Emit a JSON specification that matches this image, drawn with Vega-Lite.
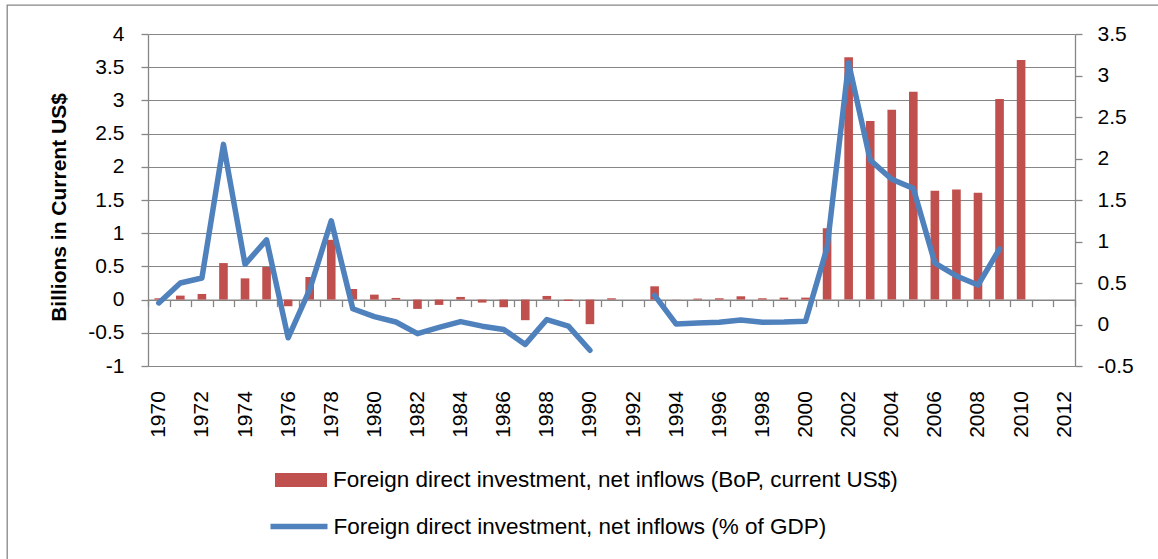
{
  "$schema": "https://vega.github.io/schema/vega-lite/v6.json",
  "autosize": "none",
  "width": 1151,
  "height": 554,
  "padding": {"left": 7, "top": 5, "right": 0, "bottom": 0},
  "background": "white",
  "config": {
    "view": {"stroke": "#868686", "strokeWidth": 1.3, "strokeDash": [1151, 1705, 554, 0]},
    "font": "Liberation Sans",
    "axis": {"labelFont": "Liberation Sans", "labelColor": "#000000", "titleColor": "#000000", "domainColor": "#868686", "tickColor": "#868686", "gridColor": "#868686", "domainWidth": 1.3, "tickWidth": 1.3, "gridWidth": 1.1},
    "legend": {"labelFont": "Liberation Sans", "labelFontSize": 22.5, "labelColor": "#000000", "labelLimit": 900, "padding": 0}
  },
  "data": {"values": [
    {"year": "1970", "usd": 0.02, "pct": 0.26},
    {"year": "1971", "usd": 0.06, "pct": 0.5},
    {"year": "1972", "usd": 0.085, "pct": 0.56},
    {"year": "1973", "usd": 0.55, "pct": 2.17},
    {"year": "1974", "usd": 0.32, "pct": 0.725},
    {"year": "1975", "usd": 0.49, "pct": 1.02},
    {"year": "1976", "usd": -0.1, "pct": -0.16},
    {"year": "1977", "usd": 0.34, "pct": 0.42},
    {"year": "1978", "usd": 0.9, "pct": 1.25},
    {"year": "1979", "usd": 0.16, "pct": 0.19},
    {"year": "1980", "usd": 0.075, "pct": 0.095},
    {"year": "1981", "usd": 0.025, "pct": 0.03},
    {"year": "1982", "usd": -0.14, "pct": -0.11},
    {"year": "1983", "usd": -0.08, "pct": -0.035},
    {"year": "1984", "usd": 0.04, "pct": 0.035},
    {"year": "1985", "usd": -0.045, "pct": -0.02},
    {"year": "1986", "usd": -0.115, "pct": -0.06},
    {"year": "1987", "usd": -0.31, "pct": -0.24},
    {"year": "1988", "usd": 0.055, "pct": 0.06},
    {"year": "1989", "usd": -0.02, "pct": -0.02},
    {"year": "1990", "usd": -0.37, "pct": -0.31},
    {"year": "1991", "usd": 0.02, "pct": null},
    {"year": "1992", "usd": null, "pct": null},
    {"year": "1993", "usd": 0.2, "pct": 0.35},
    {"year": "1994", "usd": 0.003, "pct": 0.005},
    {"year": "1995", "usd": 0.015, "pct": 0.018},
    {"year": "1996", "usd": 0.02, "pct": 0.026},
    {"year": "1997", "usd": 0.05, "pct": 0.054},
    {"year": "1998", "usd": 0.02, "pct": 0.026},
    {"year": "1999", "usd": 0.03, "pct": 0.03},
    {"year": "2000", "usd": 0.03, "pct": 0.04},
    {"year": "2001", "usd": 1.075, "pct": 0.925},
    {"year": "2002", "usd": 3.65, "pct": 3.15},
    {"year": "2003", "usd": 2.69, "pct": 1.98},
    {"year": "2004", "usd": 2.86, "pct": 1.75},
    {"year": "2005", "usd": 3.13, "pct": 1.64},
    {"year": "2006", "usd": 1.64, "pct": 0.74},
    {"year": "2007", "usd": 1.66, "pct": 0.585},
    {"year": "2008", "usd": 1.61, "pct": 0.475},
    {"year": "2009", "usd": 3.02, "pct": 0.91},
    {"year": "2010", "usd": 3.61, "pct": null},
    {"year": "2011", "usd": null, "pct": null},
    {"year": "2012", "usd": null, "pct": null}
  ]},
  "encoding": {
    "x": {
      "field": "year", "type": "ordinal",
      "scale": {"domain": ["1970","1971","1972","1973","1974","1975","1976","1977","1978","1979","1980","1981","1982","1983","1984","1985","1986","1987","1988","1989","1990","1991","1992","1993","1994","1995","1996","1997","1998","1999","2000","2001","2002","2003","2004","2005","2006","2007","2008","2009","2010","2011","2012"], "range": [141, 1068], "paddingInner": 0, "paddingOuter": 0},
      "axis": {"orient": "bottom", "offset": -259.4, "title": null, "grid": false, "tickBand": "extent", "tickSize": 7, "labelAngle": 270, "labelPadding": 84, "labelFontSize": 21, "labelExpr": "toNumber(datum.value) % 2 == 0 ? datum.value : ''"}
    }
  },
  "layer": [
    {
      "mark": {"type": "bar", "width": {"band": 0.4}},
      "encoding": {
        "y": {"field": "usd", "type": "quantitative",
          "scale": {"domain": [-1, 4], "range": [361, 29], "nice": false, "zero": false},
          "axis": {"orient": "left", "offset": -141, "values": [-1,-0.5,0,0.5,1,1.5,2,2.5,3,3.5,4], "labelExpr": "'' + datum.value", "grid": true, "tickSize": 7, "labelPadding": 17, "labelFontSize": 21, "title": "Billions in Current US$", "titleFontSize": 21, "titleFontWeight": "bold", "titleFont": "Liberation Sans", "titleX": -83, "titleY": 202, "titleBaseline": "alphabetic", "titleAngle": 270, "titleAlign": "center"}},
        "fill": {"datum": "Foreign direct investment, net inflows (BoP, current US$)", "type": "nominal", "scale": {"range": ["#C0504D"]},
          "legend": {"orient": "none", "legendX": 268, "legendY": 449, "title": null, "symbolType": "M-1,-0.27H1V0.27H-1Z", "symbolSize": 2704, "symbolStrokeWidth": 0, "labelOffset": 6}}
      }
    },
    {
      "mark": {"type": "line", "strokeWidth": 5.5, "strokeJoin": "round", "strokeCap": "round", "invalid": "break-paths-show-domains"},
      "encoding": {
        "y": {"field": "pct", "type": "quantitative",
          "scale": {"domain": [-0.5, 3.5], "range": [361, 29], "nice": false, "zero": false},
          "axis": {"orient": "right", "offset": -83, "values": [-0.5,0,0.5,1,1.5,2,2.5,3,3.5], "labelExpr": "'' + datum.value", "grid": false, "tickSize": 7, "labelPadding": 15, "labelFontSize": 21, "title": null}},
        "stroke": {"datum": "Foreign direct investment, net inflows (% of GDP)", "type": "nominal", "scale": {"range": ["#4F81BD"]},
          "legend": {"orient": "none", "legendX": 260.5, "legendY": 490, "title": null, "symbolType": "stroke", "symbolSize": 3249, "symbolStrokeWidth": 5.5, "labelOffset": 3}}
      }
    }
  ],
  "resolve": {"scale": {"y": "independent"}}
}
